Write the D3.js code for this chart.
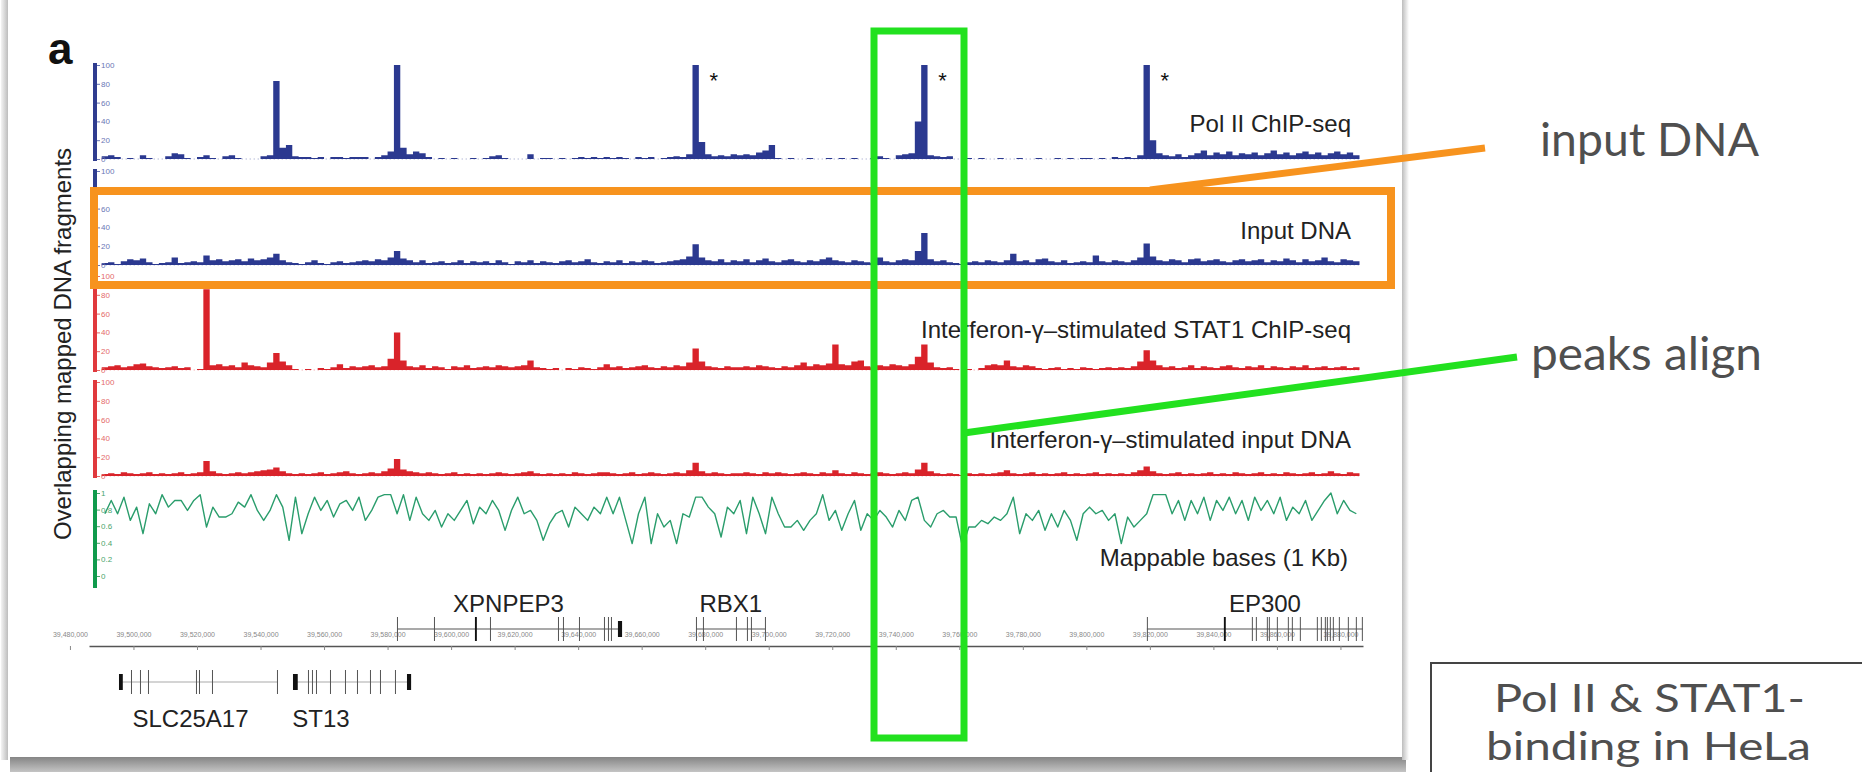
<!DOCTYPE html>
<html lang="en">
<head>
<meta charset="UTF-8">
<title>Pol II and STAT1 binding tracks</title>
<script src="https://d3js.org/d3.v7.min.js"></script>
<style>
  body { margin: 0; background: #fff; }
  svg { display: block; }
  text { font-family: "Liberation Sans", Arial, sans-serif; }
  .note { font-family: Lato, "Open Sans", sans-serif; fill: #4f4f4f; }
</style>
</head>
<body>
<svg id="fig" width="1862" height="772"></svg>
<script>
// ---- data: coverage in 2 kb bins starting at 39,490,000 ----
const binStart = 39490000;
const binSize = 2000;

const polII = [
  3,4,2,0,1,0,4,1,0,0,3,6,5,1,0,2,4,1,0,3,
  4,1,0,0,0,3,4,83,12,15,3,2,2,1,2,0,2,2,1,2,
  2,2,0,2,4,8,100,12,5,8,6,2,0,1,0,1,0,0,1,0,
  1,3,4,1,0,0,0,5,0,1,1,0,1,0,1,2,1,2,1,2,
  1,2,1,0,2,1,2,0,1,2,3,2,5,100,18,5,3,4,3,5,
  4,5,4,7,9,15,1,0,1,0,0,1,0,0,1,0,1,0,1,0,
  0,1,3,1,0,4,5,6,40,100,4,3,2,3,0,0,1,0,1,0,
  0,1,0,0,1,0,0,1,0,0,1,0,1,0,1,1,0,1,0,2,
  1,2,1,4,100,20,6,4,3,5,2,4,6,9,4,7,5,8,4,6,
  5,7,4,6,9,5,7,4,6,8,5,7,4,6,8,5,7,4
];

const inputDNA = [
  2,3,1,4,6,5,7,3,1,2,3,8,2,3,4,3,10,5,6,4,
  5,6,4,7,5,6,8,12,5,3,2,1,3,5,2,1,3,4,2,3,
  4,5,4,6,5,8,15,7,5,3,5,2,3,4,2,3,5,2,4,3,
  4,2,5,3,1,4,3,5,2,4,3,2,4,5,3,4,6,3,2,4,
  3,5,2,4,3,5,4,2,3,4,5,6,9,22,8,5,4,6,3,5,
  4,6,3,5,7,4,3,5,6,4,3,5,4,6,8,5,4,3,5,4,
  3,2,8,4,3,5,6,5,15,34,6,4,5,3,2,1,3,4,3,5,
  4,3,5,12,4,5,3,6,7,4,3,5,2,3,4,3,10,4,3,5,
  4,3,5,8,23,9,5,4,6,5,3,6,7,4,5,6,4,3,5,6,
  4,5,6,3,5,4,7,5,3,6,4,5,8,4,3,6,5,4
];

const stat1 = [
  3,4,5,3,4,6,7,4,3,2,3,4,2,3,0,1,86,5,6,4,
  5,3,8,5,4,3,8,18,9,5,1,0,1,0,2,1,3,6,2,4,
  3,4,5,3,4,12,40,10,4,3,5,2,4,3,1,4,3,5,2,3,
  4,3,5,4,3,4,5,10,3,2,1,2,0,2,1,3,2,1,3,6,
  3,4,2,3,4,5,3,2,4,3,5,4,8,23,9,4,3,2,4,3,
  3,4,3,5,4,3,2,4,3,5,8,4,6,5,7,27,6,5,9,10,
  4,3,5,4,6,5,4,6,14,27,8,3,2,3,1,0,1,0,2,5,
  6,5,10,4,3,5,4,2,1,2,3,1,2,1,3,2,1,2,3,2,
  3,2,4,9,21,10,5,3,4,2,3,5,2,4,3,2,4,5,3,2,
  4,3,5,2,4,3,2,4,3,5,2,3,4,2,3,4,2,3
];

const ifnInput = [
  2,3,2,4,3,2,3,4,2,3,2,3,4,2,3,4,16,5,3,2,
  3,4,3,4,5,6,7,9,5,3,2,3,2,3,4,2,3,4,5,3,
  2,3,4,3,5,8,18,7,5,4,3,4,3,2,3,4,2,3,2,3,
  2,3,4,3,2,3,4,5,3,2,3,2,3,2,4,3,2,3,4,4,
  3,2,3,4,2,3,4,3,2,3,4,3,6,14,5,3,4,3,2,3,
  3,4,3,2,4,3,4,3,2,3,4,3,2,4,3,6,3,2,4,3,
  2,3,4,3,2,3,4,3,7,14,5,3,2,3,2,1,3,2,3,2,
  3,4,6,3,2,3,4,2,3,2,3,4,2,3,2,3,4,2,3,2,
  3,2,4,6,10,5,3,2,3,4,2,3,2,3,4,2,3,2,4,3,
  2,3,4,2,3,2,4,3,2,3,4,2,3,5,3,2,4,3
];

// fraction of mappable bases per bin
const mappable = [
  .75,.91,.75,.95,.67,.83,.51,.87,.75,.98,.83,.91,.91,.79,.91,.98,.59,.83,.71,.71,
  .75,.89,.83,.98,.79,.67,.79,.98,.83,.43,.95,.51,.75,.95,.79,.91,.71,.87,.91,.79,
  .95,.67,.79,.95,.98,.98,.75,.98,.67,.95,.75,.67,.79,.59,.75,.67,.79,.91,.63,.83,
  .75,.91,.79,.55,.79,.95,.75,.79,.67,.43,.63,.75,.79,.59,.83,.75,.67,.83,.75,.95,
  .75,.95,.67,.39,.75,.95,.39,.75,.59,.67,.39,.75,.71,.95,
  .95,.83,.75,.47,.83,.75,.91,.51,.95,.75,.51,.95,.75,.59,.59,.67,.55,.67,.75,.98,
  .67,.79,.55,.75,.91,.55,.75,.67,.79,.71,.59,.79,.67,.91,.95,.67,.59,.75,.79,.71,
  .71,.35,.59,.59,.67,.63,.71,.67,.75,.95,.51,.75,.67,.79,.55,.75,.59,.79,.67,.43,
  .75,.83,.75,.79,.67,.75,.39,.71,.59,.67,.75,.98,.98,.98,.75,.91,.67,.91,.75,.95,
  .67,.91,.79,.95,.75,.91,.67,.95,.79,.91,.75,.95,.67,.83,.75,.91,.67,.79,.91,1.0,
  .75,.91,.79,.75
];

// bins of the Pol II peaks marked with an asterisk
const starredBins = [93, 129, 164];

const genomeTicks = [
  39480000, 39500000, 39520000, 39540000, 39560000, 39580000, 39600000,
  39620000, 39640000, 39660000, 39680000, 39700000, 39720000, 39740000,
  39760000, 39780000, 39800000, 39820000, 39840000, 39860000, 39880000
];

// genes: [name, start, end, row], exons as [position, width in bp]
const genes = [
  ["XPNPEP3", 39582960, 39653160, 0],
  ["RBX1", 39677090, 39699000, 0],
  ["EP300", 39819060, 39887100, 0],
  ["SLC25A17", 39495440, 39545500, 1],
  ["ST13", 39550220, 39587400, 1]
];
const exons = {
  XPNPEP3: [[39582960,300],[39594610,300],[39607510,600],[39612240,300],[39633650,300],[39635220,300],
            [39640260,300],[39648130,300],[39649390,300],[39650330,300],[39652530,1300]],
  RBX1: [[39677090,300],[39679290,300],[39689680,300],[39693140,300],[39694400,300],[39698810,300]],
  EP300: [[39819060,300],[39843300,600],[39852110,300],[39853370,300],[39856830,300],[39857460,300],
          [39859980,300],[39863440,300],[39864700,300],[39867220,300],[39872570,300],[39873830,300],
          [39875090,300],[39875720,300],[39876660,300],[39877610,300],[39879500,300],[39882330,300],
          [39884850,300],[39886740,300]],
  SLC25A17: [[39495440,1200],[39499220,300],[39502050,300],[39504570,300],[39519680,300],
             [39520630,300],[39524720,300],[39545180,300]],
  ST13: [[39550220,1500],[39554940,300],[39556200,300],[39557460,300],[39561870,300],[39566590,300],
         [39570370,300],[39574460,300],[39577610,300],[39582330,300],[39586110,1300]]
};

// ---- layout ----
const svg = d3.select("#fig");
const x = d3.scaleLinear().domain([39486000, 39887100]).range([89, 1363]);

const tracks = [
  {values: polII, max: 100, top: 65, bottom: 159, fill: "#2b3990", bar: "#2f3c8f", tick: "#6a77b6",
   ticks: [0,20,40,60,80,100], label: "Pol II ChIP-seq", labelY: 132},
  {values: inputDNA, max: 100, top: 171, bottom: 265, fill: "#2b3990", bar: "#2f3c8f", tick: "#6a77b6",
   ticks: [0,20,40,60,80,100], label: "Input DNA", labelY: 239},
  {values: stat1, max: 100, top: 276, bottom: 370, fill: "#d9232a", bar: "#e0393d", tick: "#e46a6a",
   ticks: [0,20,40,60,80,100], label: "Interferon-\u03b3\u2013stimulated STAT1 ChIP-seq", labelY: 338},
  {values: ifnInput, max: 100, top: 382, bottom: 476, fill: "#d9232a", bar: "#e0393d", tick: "#e46a6a",
   ticks: [0,20,40,60,80,100], label: "Interferon-\u03b3\u2013stimulated input DNA", labelY: 448}
];

// card with shadow
const defs = svg.append("defs");
const sg = defs.append("linearGradient").attr("id", "shadowV").attr("x1", 0).attr("y1", 0).attr("x2", 0).attr("y2", 1);
sg.append("stop").attr("offset", 0).attr("stop-color", "#858585");
sg.append("stop").attr("offset", 1).attr("stop-color", "#c4c4c4");
const sl = defs.append("linearGradient").attr("id", "shadowL").attr("x1", 0).attr("y1", 0).attr("x2", 1).attr("y2", 0);
sl.append("stop").attr("offset", 0).attr("stop-color", "#f4f4f4");
sl.append("stop").attr("offset", 1).attr("stop-color", "#bdbdbd");
const sr = defs.append("linearGradient").attr("id", "shadowR").attr("x1", 0).attr("y1", 0).attr("x2", 1).attr("y2", 0);
sr.append("stop").attr("offset", 0).attr("stop-color", "#bdbdbd");
sr.append("stop").attr("offset", 1).attr("stop-color", "#ffffff");

svg.append("rect").attr("x", 10).attr("y", 757).attr("width", 1396).attr("height", 15).attr("fill", "url(#shadowV)");
svg.append("rect").attr("x", 1).attr("y", 0).attr("width", 7).attr("height", 760).attr("fill", "url(#shadowL)");
svg.append("rect").attr("x", 1402).attr("y", 0).attr("width", 7).attr("height", 760).attr("fill", "url(#shadowR)");
svg.append("rect").attr("x", 8).attr("y", -5).attr("width", 1394).attr("height", 762).attr("fill", "#fff");

// panel letter and y title
svg.append("text").attr("x", 48).attr("y", 64).attr("font-size", 44).attr("font-weight", "bold")
  .attr("fill", "#111").text("a");
svg.append("text").attr("transform", "translate(71,344) rotate(-90)").attr("text-anchor", "middle")
  .attr("font-size", 24).attr("fill", "#222").text("Overlapping mapped DNA fragments");

// coverage tracks
tracks.forEach(t => {
  const y = d3.scaleLinear().domain([0, t.max]).range([t.bottom, t.top]);
  const pts = t.values.map((v, i) => [binStart + i * binSize, v]);
  pts.push([binStart + t.values.length * binSize, 0]);

  svg.append("line").attr("x1", x(binStart)).attr("x2", x(binStart + t.values.length * binSize))
    .attr("y1", y(0)).attr("y2", y(0)).attr("stroke", t.fill).attr("stroke-opacity", 0.5)
    .attr("stroke-dasharray", "1,3");

  const area = d3.area().curve(d3.curveStepAfter)
    .x(d => x(d[0])).y0(y(0)).y1(d => y(Math.min(d[1], t.max)));
  svg.append("path").datum(pts).attr("d", area).attr("fill", t.fill);

  svg.append("rect").attr("x", 93).attr("y", t.top - 2).attr("width", 4)
    .attr("height", t.bottom - t.top + 4).attr("fill", t.bar);

  const ax = svg.append("g").attr("transform", "translate(97,0)")
    .call(d3.axisRight(y).tickValues(t.ticks).tickSize(3).tickPadding(1));
  ax.select(".domain").remove();
  ax.selectAll("line").attr("stroke", t.tick);
  ax.selectAll("text").attr("fill", t.tick).attr("font-size", 8);

  svg.append("text").attr("x", 1351).attr("y", t.labelY).attr("text-anchor", "end")
    .attr("font-size", 24).attr("fill", "#222").text(t.label);
});

// asterisks on the Pol II track
svg.selectAll("text.star").data(starredBins).join("text").attr("class", "star")
  .attr("x", d => x(binStart + d * binSize) + 17).attr("y", 88)
  .attr("font-size", 22).attr("fill", "#111").text("*");

// mappability track
const ym = d3.scaleLinear().domain([0, 1]).range([576, 493]);
svg.append("rect").attr("x", 93).attr("y", 490).attr("width", 4).attr("height", 98).attr("fill", "#0f9a4c");
const axm = svg.append("g").attr("transform", "translate(97,0)")
  .call(d3.axisRight(ym).tickValues([0, 0.2, 0.4, 0.6, 0.8, 1]).tickSize(3).tickPadding(1).tickFormat(d => String(d)));
axm.select(".domain").remove();
axm.selectAll("line").attr("stroke", "#4aa56c");
axm.selectAll("text").attr("fill", "#4aa56c").attr("font-size", 8);
const mline = d3.line().x((d, i) => x(binStart + i * binSize + binSize / 2)).y(d => ym(d));
svg.append("path").datum(mappable).attr("d", mline).attr("fill", "none")
  .attr("stroke", "#2a9d6c").attr("stroke-width", 1.4).attr("stroke-linejoin", "round");
svg.append("text").attr("x", 1348).attr("y", 566).attr("text-anchor", "end")
  .attr("font-size", 24).attr("fill", "#222").text("Mappable bases (1 Kb)");

// genomic axis
const gax = svg.append("g").attr("transform", "translate(0,646)")
  .call(d3.axisBottom(x).tickValues(genomeTicks).tickFormat(d3.format(",")).tickSize(4).tickSizeOuter(0));
gax.select(".domain").attr("stroke", "#555").attr("stroke-width", 1.6);
gax.selectAll("line").attr("stroke", "#888");
gax.selectAll("text").attr("y", -9).attr("dy", 0).attr("font-size", 7).attr("fill", "#888");

// genes
const rowY = [629, 682];
const labelY = [612, 727];
const labelDx = {EP300: 10, SLC25A17: -8, ST13: -31};
genes.forEach(([name, start, end, row]) => {
  const g = svg.append("g");
  const yc = rowY[row];
  g.append("line").attr("x1", x(start)).attr("x2", x(end)).attr("y1", yc).attr("y2", yc)
    .attr("stroke", row === 0 ? "#555" : "#aaa").attr("stroke-width", 1.2);
  g.selectAll("rect").data(exons[name]).join("rect")
    .attr("x", d => x(d[0]))
    .attr("width", d => Math.max(1, x(d[0] + d[1]) - x(d[0])))
    .attr("y", d => d[1] > 1000 ? yc - 8 : yc - 12)
    .attr("height", d => d[1] > 1000 ? 16 : 24)
    .attr("fill", d => d[1] > 400 ? "#111" : "#555");
  g.append("text").attr("x", (x(start) + x(end)) / 2 + (labelDx[name] || 0)).attr("y", labelY[row])
    .attr("text-anchor", "middle").attr("font-size", 24).attr("fill", "#222").text(name);
});

// highlight boxes and connectors
svg.append("rect").attr("x", 94).attr("y", 191).attr("width", 1297).attr("height", 94)
  .attr("fill", "none").attr("stroke", "#f7931e").attr("stroke-width", 8);
svg.append("line").attr("x1", 1150).attr("y1", 190).attr("x2", 1485).attr("y2", 148)
  .attr("stroke", "#f7931e").attr("stroke-width", 7);
svg.append("rect").attr("x", 874).attr("y", 31).attr("width", 90).attr("height", 707)
  .attr("fill", "none").attr("stroke", "#22e11f").attr("stroke-width", 7);
svg.append("line").attr("x1", 964).attr("y1", 433).attr("x2", 1517).attr("y2", 357)
  .attr("stroke", "#22e11f").attr("stroke-width", 7);

// side notes
svg.append("text").attr("class", "note").attr("x", 1540).attr("y", 156).attr("font-size", 46)
  .attr("textLength", 219).attr("lengthAdjust", "spacingAndGlyphs").text("input DNA");
svg.append("text").attr("class", "note").attr("x", 1531).attr("y", 370).attr("font-size", 46)
  .attr("textLength", 231).attr("lengthAdjust", "spacingAndGlyphs").text("peaks align");

svg.append("rect").attr("x", 1431).attr("y", 663).attr("width", 460).attr("height", 140)
  .attr("fill", "#fff").attr("stroke", "#444").attr("stroke-width", 2);
svg.append("text").attr("class", "note").attr("x", 1494).attr("y", 712).attr("font-size", 39)
  .attr("textLength", 311).attr("lengthAdjust", "spacingAndGlyphs").text("Pol II & STAT1-");
svg.append("text").attr("class", "note").attr("x", 1486).attr("y", 760).attr("font-size", 39)
  .attr("textLength", 325).attr("lengthAdjust", "spacingAndGlyphs").text("binding in HeLa");
</script>
</body>
</html>
